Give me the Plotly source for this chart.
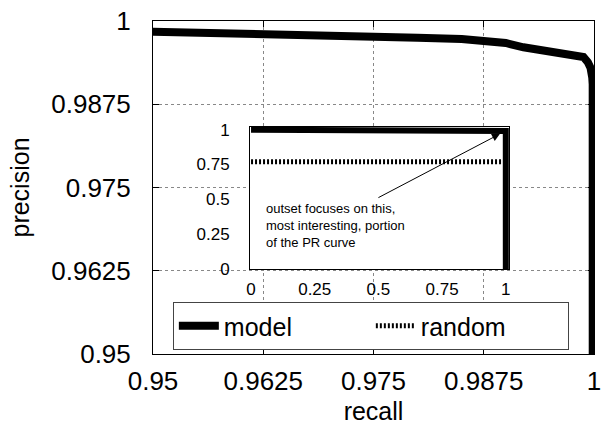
import plotly.graph_objects as go

# Data
recall = [0.0, 0.2, 0.4, 0.6, 0.8, 0.9, 0.95, 0.96, 0.97, 0.975, 0.98, 0.985,
          0.9875, 0.99, 0.992, 0.994, 0.996, 0.998, 0.9988, 0.9993, 0.9996,
          0.9998, 0.99985, 0.99995]
precision = [1.0, 0.9995, 0.9992, 0.999, 0.9988, 0.9986, 0.9984, 0.9982, 0.9979,
             0.99775, 0.9975, 0.9973, 0.99715, 0.9967, 0.99605, 0.9957, 0.99525,
             0.9949, 0.9946, 0.9938, 0.9930, 0.9915, 0.9905, 0.0]
random_recall = [0.0, 1.0]
random_precision = [0.77, 0.77]

main_ticks = [0.95, 0.9625, 0.975, 0.9875, 1.0]
main_ticktext = ["0.95", "0.9625", "0.975", "0.9875", "1"]
inset_ticks = [0, 0.25, 0.5, 0.75, 1]
inset_ticktext = ["0", "0.25", "0.5", "0.75", "1"]

FONT = "Liberation Sans, Arial, Helvetica, sans-serif"

fig = go.Figure()
fig.add_trace(go.Scatter(x=recall, y=precision, mode="lines", name="model",
                         line=dict(color="black", width=8), xaxis="x", yaxis="y"))
fig.add_trace(go.Scatter(x=random_recall, y=random_precision, mode="lines", name="random",
                         line=dict(color="black", width=5, dash="2px,2px"), xaxis="x", yaxis="y"))
# inset
fig.add_trace(go.Scatter(x=recall, y=precision, mode="lines", showlegend=False,
                         line=dict(color="black", width=6), xaxis="x2", yaxis="y2"))
fig.add_trace(go.Scatter(x=random_recall, y=random_precision, mode="lines", showlegend=False,
                         line=dict(color="black", width=5, dash="2px,2px"), xaxis="x2", yaxis="y2"))

axis_common = dict(showline=True, linecolor="black", linewidth=1, mirror="ticks",
                   ticks="inside", ticklen=6, tickcolor="black",
                   showgrid=True, gridcolor="#888", griddash="dot", gridwidth=1,
                   zeroline=False, automargin=False,
                   tickfont=dict(size=26, color="black"))

fig.update_layout(
    width=602, height=433,
    margin=dict(l=153, r=8, t=21, b=79),
    paper_bgcolor="white", plot_bgcolor="white",
    font=dict(family=FONT, color="black"),
    xaxis=dict(range=[0.95, 1.0], tickvals=main_ticks, ticktext=main_ticktext,
               title=dict(text="recall", font=dict(size=25), standoff=7),
               ticklabelstandoff=4, domain=[0, 1], **axis_common),
    yaxis=dict(range=[0.95, 1.0], tickvals=main_ticks, ticktext=main_ticktext,
               title=dict(text="precision", font=dict(size=25), standoff=14),
               ticklabelstandoff=16, domain=[0, 1], **axis_common),
    xaxis2=dict(domain=[0.220, 0.807], anchor="y2", range=[-0.004, 1.012],
                tickvals=inset_ticks, ticktext=inset_ticktext, showgrid=False,
                showline=True, linecolor="black", linewidth=1, mirror=True,
                ticks="", zeroline=False, ticklabelstandoff=5, automargin=False,
                tickfont=dict(size=17, color="black")),
    yaxis2=dict(domain=[0.255, 0.682], anchor="x2", range=[0, 1.02],
                tickvals=inset_ticks, ticktext=inset_ticktext, showgrid=False,
                showline=True, linecolor="black", linewidth=1, mirror=True,
                ticks="", zeroline=False, ticklabelstandoff=16, automargin=False,
                tickfont=dict(size=17, color="black")),
    legend=dict(orientation="h", x=0.045, y=0.012, xanchor="left", yanchor="bottom",
                bgcolor="white", bordercolor="#444", borderwidth=1,
                font=dict(size=25, color="black"), entrywidth=142, itemwidth=40),
    shapes=[dict(type="rect", xref="x2 domain", yref="y2 domain", x0=0, x1=1, y0=0, y1=1,
                 fillcolor="white", line=dict(width=0), layer="below")],
    annotations=[
        dict(xref="x2", yref="y2", x=0.05, y=0.31, xanchor="left", yanchor="middle",
             text="outset focuses on this,<br>most interesting, portion<br>of the PR curve",
             showarrow=False, align="left", font=dict(size=13, color="black")),
        dict(xref="x2", yref="y2", axref="x2", ayref="y2", x=0.977, y=0.97,
             ax=0.494, ay=0.507, text="", showarrow=True, arrowhead=2,
             arrowsize=1.6, arrowwidth=1, arrowcolor="black"),
    ],
)

fig.write_html("out.html", config={"displayModeBar": False},
               post_script="document.body.style.margin='0';")
